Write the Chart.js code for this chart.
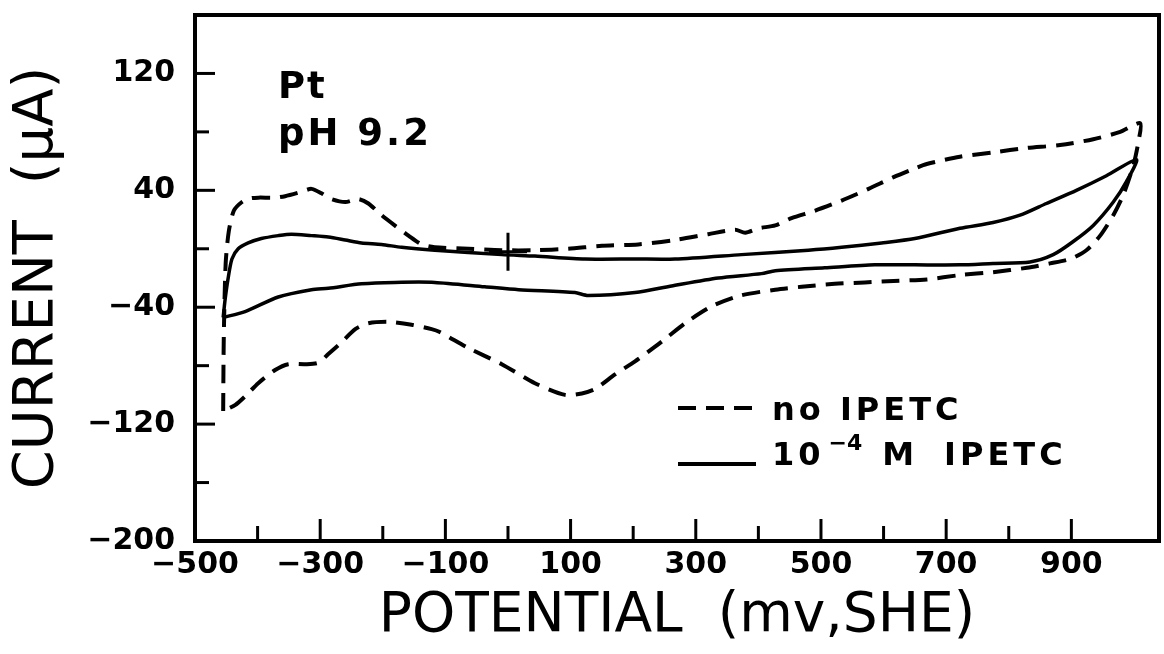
<!DOCTYPE html>
<html>
<head>
<meta charset="utf-8">
<script src="https://cdn.jsdelivr.net/npm/chart.js@4.4.0/dist/chart.umd.min.js"></script>
<style>
  html, body { margin: 0; padding: 0; background: #fff; }
  #wrap { width: 1164px; height: 654px; }
</style>
</head>
<body>
<div id="wrap"><canvas id="cvChart" width="1164" height="654"></canvas></div>
<script>
// Pt electrode, pH 9.2 - cyclic voltammograms with and without IPETC
// potential in mV vs SHE, current in uA. Each list runs anodic sweep first, then back.
const noIpetcV = [-455, -454, -451, -446, -438, -425, -412, -399, -372, -356, -330, -314, -298, -282, -260, -239, -223, -202, -181, -159, -138, -117, -63, -10, 43, 96, 150, 208, 267, 320, 363, 379, 400, 427, 453, 490, 533, 576, 616, 650, 669, 722, 775, 829, 882, 935, 978, 1010,
                  1007, 999, 983, 967, 946, 924, 898, 866, 829, 775, 722, 669, 616, 570, 522, 469, 427, 371, 327, 286, 256, 235, 203, 171, 139, 118, 91, 43, -10, -63, -109, -122, -154, -191, -223, -244, -266, -287, -303, -324, -351, -372, -399, -420, -436, -455];
const noIpetcI = [-111, -60, -10, 12, 26, 32, 34.5, 35, 35, 36, 39, 41, 38, 34, 32, 34, 31, 23, 16, 9, 3, 1, 0, -1, -1, 0, 2, 3, 6, 10, 13, 11, 14, 16, 21, 26, 33, 41, 49, 55, 58, 63, 66, 69, 71, 75, 80, 86,
                  73, 57, 37, 23, 9, -1, -7, -10, -13, -16, -18, -21, -22, -23, -24, -26, -28, -32, -39, -50, -60, -67, -77, -86, -96, -99, -100, -92, -79, -68, -57, -55, -52, -50, -51, -55, -64, -72, -78, -79, -79, -83, -92, -101, -107, -111];

const ipetcV = [-455, -452, -447, -441, -431, -415, -394, -367, -346, -314, -287, -260, -234, -202, -170, -117, -10, 43, 123, 203, 267, 373, 480, 533, 597, 650, 722, 775, 818, 860, 908, 956, 1004,
                988, 967, 935, 903, 871, 834, 775, 722, 650, 586, 506, 427, 405, 336, 267, 203, 128, 107, 17, -37, -117, -181, -234, -287, -314, -367, -420, -455];
const ipetcI = [-47, -35, -20, -7, 0, 4, 7, 9, 10, 9, 8, 6, 4, 3, 1, -1, -4, -5, -7, -7, -7, -4, -1, 1, 4, 7, 14, 18, 23, 31, 40, 50, 61,
                46, 32, 16, 5, -4, -9, -10, -11, -11, -11, -13, -15, -17, -20, -25, -30, -32, -30, -28, -26, -23, -23, -24, -27, -28, -33, -43, -47];

// the little "+" reference mark near the origin
const markV = [0];
const markI = [-2];

const xTickValues = [-500, -300, -100, 100, 300, 500, 700, 900];
const yTickValues = [-200, -120, -40, 40, 120];

const legendText = ['no IPETC', '10^-4 M IPETC'];
const panelText = ['Pt', 'pH 9.2'];

const FONT = "'DejaVu Sans', 'Liberation Sans', sans-serif";

function minus(v) {
    return String(v).replace('-', '\u2212');
}

function toPoints(xs, ys) {
    return xs.map((v, i) => ({ x: v, y: ys[i] }));
}

function setSpacing(ctx, px) {
    if ('letterSpacing' in ctx) ctx.letterSpacing = px + 'px';
}

// inward ticks + heavy frame, like the old plotter output
const frameAndTicks = {
    id: 'frameAndTicks',
    afterDatasetsDraw(chart) {
        const { ctx, chartArea: a, scales: { x, y } } = chart;
        ctx.save();
        ctx.strokeStyle = '#000';
        ctx.lineWidth = 3;
        x.ticks.forEach(t => {
            if (t.value <= x.min || t.value >= x.max) return;
            const px = x.getPixelForValue(t.value);
            const len = xTickValues.includes(t.value) ? 22 : 15;
            ctx.beginPath();
            ctx.moveTo(px, a.bottom);
            ctx.lineTo(px, a.bottom - len);
            ctx.stroke();
        });
        y.ticks.forEach(t => {
            if (t.value <= y.min || t.value >= y.max) return;
            const py = y.getPixelForValue(t.value);
            const len = yTickValues.includes(t.value) ? 20 : 14;
            ctx.beginPath();
            ctx.moveTo(a.left, py);
            ctx.lineTo(a.left + len, py);
            ctx.stroke();
        });
        ctx.lineWidth = 4;
        ctx.strokeRect(a.left, a.top, a.right - a.left, a.bottom - a.top);
        ctx.restore();
    }
};

// "Pt / pH 9.2" note and the hand-placed legend
const notes = {
    id: 'notes',
    afterDraw(chart) {
        const ctx = chart.ctx;
        const ds = chart.data.datasets;
        ctx.save();
        ctx.fillStyle = '#000';
        ctx.strokeStyle = '#000';
        ctx.textBaseline = 'alphabetic';
        ctx.textAlign = 'left';
        ctx.font = 'bold 37px ' + FONT;
        setSpacing(ctx, 2);
        ctx.fillText(panelText[0], 278, 98);
        setSpacing(ctx, 3);
        ctx.fillText(panelText[1], 278, 145);

        const x0 = 678, x1 = 756, tx = 772;
        const rows = [408, 464];
        ctx.lineWidth = 4;
        rows.forEach((ry, i) => {
            ctx.setLineDash(ds[i].borderDash || []);
            ctx.beginPath();
            ctx.moveTo(x0, ry);
            ctx.lineTo(x1, ry);
            ctx.stroke();
        });
        ctx.setLineDash([]);

        ctx.font = 'bold 32px ' + FONT;
        setSpacing(ctx, 4);
        ctx.fillText(legendText[0], tx, 420);

        // "10^-4 M IPETC" with a raised exponent, words spread like the original lettering
        const parts = legendText[1].split(' ');
        const base = parts[0].split('^');
        let cx = tx;
        ctx.fillText(base[0], cx, 465);
        cx += ctx.measureText(base[0]).width + 4;
        ctx.font = 'bold 22px ' + FONT;
        setSpacing(ctx, 0);
        const sup = minus(base[1]);
        ctx.fillText(sup, cx, 450);
        cx += ctx.measureText(sup).width + 20;
        ctx.font = 'bold 32px ' + FONT;
        setSpacing(ctx, 4);
        parts.slice(1).forEach(w => {
            ctx.fillText(w, cx, 465);
            cx += ctx.measureText(w).width + 26;
        });
        ctx.restore();
    }
};

const ctx = document.getElementById('cvChart').getContext('2d');
const chart = new Chart(ctx, {
    type: 'scatter',
    data: {
        datasets: [{
            label: legendText[0],
            data: toPoints(noIpetcV, noIpetcI),
            showLine: true,
            borderColor: '#000',
            borderWidth: 4,
            borderDash: [18, 10],
            pointRadius: 0,
            tension: 0.25,
            fill: false
        }, {
            label: legendText[1],
            data: toPoints(ipetcV, ipetcI),
            showLine: true,
            borderColor: '#000',
            borderWidth: 3.5,
            pointRadius: 0,
            tension: 0.25,
            fill: false
        }, {
            label: 'mark',
            data: toPoints(markV, markI),
            showLine: false,
            pointStyle: 'cross',
            pointRadius: 19,
            borderColor: '#000',
            borderWidth: 3
        }]
    },
    options: {
        responsive: false,
        animation: false,
        layout: { autoPadding: false, padding: { top: 15, right: 5, left: 0, bottom: 0 } },
        plugins: {
            legend: { display: false },
            tooltip: { enabled: false }
        },
        scales: {
            x: {
                type: 'linear',
                min: -500,
                max: 1040,
                afterFit(scale) {
                    scale.height = 113;
                    scale.paddingLeft = 0;
                    scale.paddingRight = 0;
                },
                grid: { display: false, drawTicks: false },
                border: { display: false },
                ticks: {
                    stepSize: 100,
                    autoSkip: false,
                    maxRotation: 0,
                    minRotation: 0,
                    padding: 6,
                    color: '#000',
                    font: { family: FONT, size: 30, weight: 'bold' },
                    callback: v => xTickValues.includes(v) ? minus(v) : ''
                },
                title: {
                    display: true,
                    text: 'POTENTIAL  (mv,SHE)',
                    color: '#000',
                    font: { family: FONT, size: 55 },
                    padding: { top: 0, bottom: 4 }
                }
            },
            y: {
                type: 'linear',
                min: -200,
                max: 160,
                afterFit(scale) {
                    scale.width = 195;
                    scale.paddingTop = 0;
                    scale.paddingBottom = 0;
                },
                grid: { display: false, drawTicks: false },
                border: { display: false },
                ticks: {
                    stepSize: 40,
                    autoSkip: false,
                    padding: 20,
                    color: '#000',
                    font: { family: FONT, size: 30, weight: 'bold' },
                    callback: v => yTickValues.includes(v) ? minus(v) : ''
                },
                title: {
                    display: true,
                    text: 'CURRENT  (\u03BCA)',
                    color: '#000',
                    font: { family: FONT, size: 56 },
                    padding: { top: 4, bottom: 0 }
                }
            }
        }
    },
    plugins: [frameAndTicks, notes]
});
</script>
</body>
</html>
